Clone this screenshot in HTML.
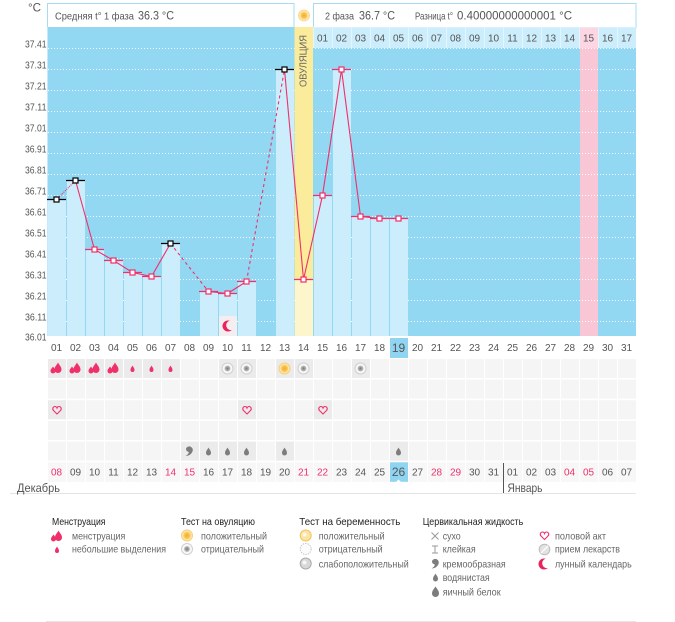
<!DOCTYPE html>
<html><head><meta charset="utf-8"><style>
html,body{margin:0;padding:0;background:#fff}
svg{display:block}
text{font-family:"Liberation Sans","DejaVu Sans",sans-serif}
</style></head><body>
<svg width="675" height="622" viewBox="0 0 675 622" xmlns="http://www.w3.org/2000/svg">
<defs>
<radialGradient id="gT" cx="50%" cy="50%" r="50%"><stop offset="0" stop-color="#777"/><stop offset="1" stop-color="#c8c8c8"/></radialGradient>
<radialGradient id="sT" cx="50%" cy="50%" r="50%"><stop offset="0" stop-color="#f4a92a"/><stop offset="1" stop-color="#fbd16a"/></radialGradient>
</defs>
<rect width="675" height="622" fill="#fff"/>
<!-- degree label -->
<text x="28" y="11.5" font-size="12" fill="#555" textLength="13" lengthAdjust="spacingAndGlyphs">°C</text>
<!-- header boxes -->
<rect x="47.5" y="3.5" width="246.5" height="24" fill="#fff" stroke="#a6dcf2"/>
<rect x="313.5" y="3.5" width="322.5" height="24" fill="#fff" stroke="#a6dcf2"/>
<text x="55" y="19.5" font-size="10.5" fill="#555" textLength="79" lengthAdjust="spacingAndGlyphs">Средняя t° 1 фаза</text>
<text x="138" y="19.5" font-size="12" fill="#555" textLength="36" lengthAdjust="spacingAndGlyphs">36.3 °C</text>
<text x="325" y="19.5" font-size="10.5" fill="#555" textLength="29" lengthAdjust="spacingAndGlyphs">2 фаза</text>
<text x="359" y="19.5" font-size="12" fill="#555" textLength="36" lengthAdjust="spacingAndGlyphs">36.7 °C</text>
<text x="415" y="19.5" font-size="10.5" fill="#555" textLength="38" lengthAdjust="spacingAndGlyphs">Разница t°</text>
<text x="457" y="19.5" font-size="12" fill="#555" textLength="115" lengthAdjust="spacingAndGlyphs">0.40000000000001 °C</text>
<!-- sun in header -->
<circle cx="304" cy="15.5" r="5.5" fill="#fde6a8" stroke="#f8d48a" stroke-width="0.8"/>
<circle cx="304" cy="15.5" r="3.6" fill="url(#sT)"/>

<!-- chart bg -->
<rect x="47" y="27" width="589" height="309" fill="#92d8f3"/>
<line x1="47.5" y1="27" x2="47.5" y2="336" stroke="#c3eafa"/>
<!-- pink column -->
<rect x="580" y="27" width="18" height="309" fill="#f9c6d6"/>
<!-- grid -->
<g stroke="#ffffff" stroke-width="1" stroke-dasharray="1,2" opacity="0.95">
<line x1="48" y1="48.5" x2="636" y2="48.5"/>
<line x1="48" y1="69.5" x2="636" y2="69.5"/>
<line x1="48" y1="90.5" x2="636" y2="90.5"/>
<line x1="48" y1="111.5" x2="636" y2="111.5"/>
<line x1="48" y1="132.5" x2="636" y2="132.5"/>
<line x1="48" y1="153.5" x2="636" y2="153.5"/>
<line x1="48" y1="174.5" x2="636" y2="174.5"/>
<line x1="48" y1="195.5" x2="636" y2="195.5"/>
<line x1="48" y1="216.5" x2="636" y2="216.5"/>
<line x1="48" y1="237.5" x2="636" y2="237.5"/>
<line x1="48" y1="258.5" x2="636" y2="258.5"/>
<line x1="48" y1="279.5" x2="636" y2="279.5"/>
<line x1="48" y1="300.5" x2="636" y2="300.5"/>
<line x1="48" y1="321.5" x2="636" y2="321.5"/>
</g>
<!-- header row 2 -->
<rect x="313" y="27" width="323" height="21" fill="#e4f5fd"/>
<g fill="#ccedfb">
<rect x="314" y="27.5" width="18" height="20.5"/><rect x="333" y="27.5" width="18" height="20.5"/><rect x="352" y="27.5" width="18" height="20.5"/><rect x="371" y="27.5" width="18" height="20.5"/><rect x="390" y="27.5" width="18" height="20.5"/><rect x="409" y="27.5" width="18" height="20.5"/><rect x="428" y="27.5" width="18" height="20.5"/><rect x="447" y="27.5" width="18" height="20.5"/><rect x="466" y="27.5" width="18" height="20.5"/><rect x="485" y="27.5" width="18" height="20.5"/><rect x="504" y="27.5" width="18" height="20.5"/><rect x="523" y="27.5" width="18" height="20.5"/><rect x="542" y="27.5" width="18" height="20.5"/><rect x="561" y="27.5" width="18" height="20.5"/><rect x="580" y="27.5" width="18" height="20.5" fill="#fcd6e2"/><rect x="599" y="27.5" width="18" height="20.5"/><rect x="618" y="27.5" width="18" height="20.5"/>
</g>
<g font-size="10" fill="#555" text-anchor="middle">
<text x="322.5" y="41.5">01</text><text x="341.5" y="41.5">02</text><text x="360.5" y="41.5">03</text><text x="379.5" y="41.5">04</text><text x="398.5" y="41.5">05</text><text x="417.5" y="41.5">06</text><text x="436.5" y="41.5">07</text><text x="455.5" y="41.5">08</text><text x="474.5" y="41.5">09</text><text x="493.5" y="41.5">10</text><text x="512.5" y="41.5">11</text><text x="531.5" y="41.5">12</text><text x="550.5" y="41.5">13</text><text x="569.5" y="41.5">14</text><text x="588.5" y="41.5">15</text><text x="607.5" y="41.5">16</text><text x="626.5" y="41.5">17</text>
</g>
<!-- bars -->
<g fill="#ccedfb">
<rect x="48" y="199.5" width="18" height="136.5"/>
<rect x="67" y="180.5" width="18" height="155.5"/>
<rect x="86" y="249.5" width="18" height="86.5"/>
<rect x="105" y="260.5" width="18" height="75.5"/>
<rect x="124" y="272.5" width="18" height="63.5"/>
<rect x="143" y="276.5" width="18" height="59.5"/>
<rect x="162" y="243.5" width="18" height="92.5"/>
<rect x="200" y="291.5" width="18" height="44.5"/>
<rect x="219" y="293.5" width="18" height="42.5"/>
<rect x="238" y="281.5" width="18" height="54.5"/>
<rect x="276" y="69.5" width="18" height="266.5"/>
<rect x="314" y="195.5" width="18" height="140.5"/>
<rect x="333" y="69.5" width="18" height="266.5"/>
<rect x="352" y="216.5" width="18" height="119.5"/>
<rect x="371" y="218.5" width="18" height="117.5"/>
<rect x="390" y="218.5" width="18" height="117.5"/>
</g>
<!-- ovulation column -->
<rect x="294.5" y="27" width="18.5" height="252.5" fill="#fbec9b"/>
<rect x="294.5" y="279.5" width="18.5" height="56.5" fill="#fdf5cc"/>
<text transform="translate(306.5,61) rotate(-90)" font-size="10.5" fill="#666" text-anchor="middle" textLength="52" lengthAdjust="spacingAndGlyphs">ОВУЛЯЦИЯ</text>
<!-- moon in chart -->
<rect x="219" y="316" width="18" height="20" fill="#f4eef1"/>
<circle cx="228" cy="326" r="5.5" fill="#e8245c"/>
<circle cx="231" cy="325.3" r="4.8" fill="#f4eef1"/>

<!-- marker horizontal lines -->
<g stroke-width="1.2">
<line x1="47" y1="199.5" x2="66" y2="199.5" stroke="#000"/>
<line x1="66" y1="180.5" x2="85" y2="180.5" stroke="#000"/>
<line x1="85" y1="249.5" x2="104" y2="249.5" stroke="#f0306a"/>
<line x1="104" y1="260.5" x2="123" y2="260.5" stroke="#f0306a"/>
<line x1="123" y1="272.5" x2="142" y2="272.5" stroke="#f0306a"/>
<line x1="142" y1="276.5" x2="161" y2="276.5" stroke="#f0306a"/>
<line x1="161" y1="243.5" x2="180" y2="243.5" stroke="#000"/>
<line x1="199" y1="291.5" x2="218" y2="291.5" stroke="#f0306a"/>
<line x1="218" y1="293.5" x2="237" y2="293.5" stroke="#f0306a"/>
<line x1="237" y1="281.5" x2="256" y2="281.5" stroke="#f0306a"/>
<line x1="275" y1="69.5" x2="294" y2="69.5" stroke="#000"/>
<line x1="294" y1="279.5" x2="313" y2="279.5" stroke="#f0306a"/>
<line x1="313" y1="195.5" x2="332" y2="195.5" stroke="#f0306a"/>
<line x1="332" y1="69.5" x2="351" y2="69.5" stroke="#f0306a"/>
<line x1="351" y1="216.5" x2="370" y2="216.5" stroke="#f0306a"/>
<line x1="370" y1="218.5" x2="389" y2="218.5" stroke="#f0306a"/>
<line x1="389" y1="218.5" x2="408" y2="218.5" stroke="#f0306a"/>
</g>
<!-- series lines -->
<g fill="none" stroke="#f0306a" stroke-width="1.1">
<polyline points="75.5,180.5 94.5,249.5 113.5,260.5 132.5,272.5 151.5,276.5 170.5,243.5"/>
<polyline points="208.5,291.5 227.5,293.5 246.5,281.5"/>
<polyline points="284.5,69.5 303.5,279.5 322.5,195.5 341.5,69.5 360.5,216.5 379.5,218.5 398.5,218.5"/>
<line x1="56.5" y1="199.5" x2="75.5" y2="180.5" stroke-dasharray="1,1"/>
<line x1="170.5" y1="243.5" x2="208.5" y2="291.5" stroke-dasharray="3,3"/>
<line x1="246.5" y1="281.5" x2="284.5" y2="69.5" stroke-dasharray="3,3"/>
</g>
<!-- markers -->
<g fill="#fff" stroke-width="1.2">
<rect x="54" y="197" width="5" height="5" stroke="#000"/>
<rect x="73" y="178" width="5" height="5" stroke="#000"/>
<rect x="92" y="247" width="5" height="5" stroke="#f0306a"/>
<rect x="111" y="258" width="5" height="5" stroke="#f0306a"/>
<rect x="130" y="270" width="5" height="5" stroke="#f0306a"/>
<rect x="149" y="274" width="5" height="5" stroke="#f0306a"/>
<rect x="168" y="241" width="5" height="5" stroke="#000"/>
<rect x="206" y="289" width="5" height="5" stroke="#f0306a"/>
<rect x="225" y="291" width="5" height="5" stroke="#f0306a"/>
<rect x="244" y="279" width="5" height="5" stroke="#f0306a"/>
<rect x="282" y="67" width="5" height="5" stroke="#000"/>
<rect x="301" y="277" width="5" height="5" stroke="#f0306a"/>
<rect x="320" y="193" width="5" height="5" stroke="#f0306a"/>
<rect x="339" y="67" width="5" height="5" stroke="#f0306a"/>
<rect x="358" y="214" width="5" height="5" stroke="#f0306a"/>
<rect x="377" y="216" width="5" height="5" stroke="#f0306a"/>
<rect x="396" y="216" width="5" height="5" stroke="#f0306a"/>
</g>

<!-- y axis labels -->
<g font-size="10" fill="#555" text-anchor="end">
<text x="46.5" y="47.5" textLength="21.5" lengthAdjust="spacingAndGlyphs">37.41</text>
<text x="46.5" y="68.5" textLength="21.5" lengthAdjust="spacingAndGlyphs">37.31</text>
<text x="46.5" y="89.5" textLength="21.5" lengthAdjust="spacingAndGlyphs">37.21</text>
<text x="46.5" y="110.5" textLength="21.5" lengthAdjust="spacingAndGlyphs">37.11</text>
<text x="46.5" y="131.5" textLength="21.5" lengthAdjust="spacingAndGlyphs">37.01</text>
<text x="46.5" y="152.5" textLength="21.5" lengthAdjust="spacingAndGlyphs">36.91</text>
<text x="46.5" y="173.5" textLength="21.5" lengthAdjust="spacingAndGlyphs">36.81</text>
<text x="46.5" y="194.5" textLength="21.5" lengthAdjust="spacingAndGlyphs">36.71</text>
<text x="46.5" y="215.5" textLength="21.5" lengthAdjust="spacingAndGlyphs">36.61</text>
<text x="46.5" y="236.5" textLength="21.5" lengthAdjust="spacingAndGlyphs">36.51</text>
<text x="46.5" y="257.5" textLength="21.5" lengthAdjust="spacingAndGlyphs">36.41</text>
<text x="46.5" y="278.5" textLength="21.5" lengthAdjust="spacingAndGlyphs">36.31</text>
<text x="46.5" y="299.5" textLength="21.5" lengthAdjust="spacingAndGlyphs">36.21</text>
<text x="46.5" y="320.5" textLength="21.5" lengthAdjust="spacingAndGlyphs">36.11</text>
<text x="46.5" y="340.5" textLength="21.5" lengthAdjust="spacingAndGlyphs">36.01</text>
</g>

<!-- cycle day row -->
<rect x="390" y="338" width="18" height="20" fill="#8fd4f1"/>
<g font-size="10" fill="#555" text-anchor="middle">
<text x="56.5" y="351">01</text><text x="75.5" y="351">02</text><text x="94.5" y="351">03</text><text x="113.5" y="351">04</text><text x="132.5" y="351">05</text><text x="151.5" y="351">06</text><text x="170.5" y="351">07</text><text x="189.5" y="351">08</text><text x="208.5" y="351">09</text><text x="227.5" y="351">10</text><text x="246.5" y="351">11</text><text x="265.5" y="351">12</text><text x="284.5" y="351">13</text><text x="303.5" y="351">14</text><text x="322.5" y="351">15</text><text x="341.5" y="351">16</text><text x="360.5" y="351">17</text><text x="379.5" y="351">18</text><text x="398.5" y="352" font-size="12">19</text><text x="417.5" y="351">20</text><text x="436.5" y="351">21</text><text x="455.5" y="351">22</text><text x="474.5" y="351">23</text><text x="493.5" y="351">24</text><text x="512.5" y="351">25</text><text x="531.5" y="351">26</text><text x="550.5" y="351">27</text><text x="569.5" y="351">28</text><text x="588.5" y="351">29</text><text x="607.5" y="351">30</text><text x="626.5" y="351">31</text>
</g>

<!-- icon rows background -->
<g fill="#f5f5f5">
<rect x="48" y="359" width="588" height="19"/>
<rect x="48" y="379.6" width="588" height="19"/>
<rect x="48" y="400.3" width="588" height="19"/>
<rect x="48" y="421" width="588" height="19"/>
<rect x="48" y="441.6" width="588" height="19"/>
<rect x="48" y="462.3" width="588" height="19.5" fill="#f7f7f7"/>
</g>
<!-- vertical white separators between cells -->
<g stroke="#fff" stroke-width="1">
<line x1="66.5" y1="359" x2="66.5" y2="482"/><line x1="85.5" y1="359" x2="85.5" y2="482"/><line x1="104.5" y1="359" x2="104.5" y2="482"/><line x1="123.5" y1="359" x2="123.5" y2="482"/><line x1="142.5" y1="359" x2="142.5" y2="482"/><line x1="161.5" y1="359" x2="161.5" y2="482"/><line x1="180.5" y1="359" x2="180.5" y2="482"/><line x1="199.5" y1="359" x2="199.5" y2="482"/><line x1="218.5" y1="359" x2="218.5" y2="482"/><line x1="237.5" y1="359" x2="237.5" y2="482"/><line x1="256.5" y1="359" x2="256.5" y2="482"/><line x1="275.5" y1="359" x2="275.5" y2="482"/><line x1="294.5" y1="359" x2="294.5" y2="482"/><line x1="313.5" y1="359" x2="313.5" y2="482"/><line x1="332.5" y1="359" x2="332.5" y2="482"/><line x1="351.5" y1="359" x2="351.5" y2="482"/><line x1="370.5" y1="359" x2="370.5" y2="482"/><line x1="389.5" y1="359" x2="389.5" y2="482"/><line x1="408.5" y1="359" x2="408.5" y2="482"/><line x1="427.5" y1="359" x2="427.5" y2="482"/><line x1="446.5" y1="359" x2="446.5" y2="482"/><line x1="465.5" y1="359" x2="465.5" y2="482"/><line x1="484.5" y1="359" x2="484.5" y2="482"/><line x1="503.5" y1="359" x2="503.5" y2="482"/><line x1="522.5" y1="359" x2="522.5" y2="482"/><line x1="541.5" y1="359" x2="541.5" y2="482"/><line x1="560.5" y1="359" x2="560.5" y2="482"/><line x1="579.5" y1="359" x2="579.5" y2="482"/><line x1="598.5" y1="359" x2="598.5" y2="482"/><line x1="617.5" y1="359" x2="617.5" y2="482"/>
</g>
<!-- icon cells darker -->
<g fill="#ebebeb">
<rect x="48" y="359" width="18" height="19"/><rect x="67" y="359" width="18" height="19"/><rect x="86" y="359" width="18" height="19"/><rect x="105" y="359" width="18" height="19"/><rect x="124" y="359" width="18" height="19"/><rect x="143" y="359" width="18" height="19"/><rect x="162" y="359" width="18" height="19"/>
<rect x="219" y="359" width="18" height="19"/><rect x="238" y="359" width="18" height="19"/><rect x="276" y="359" width="18" height="19"/><rect x="295" y="359" width="18" height="19"/><rect x="352" y="359" width="18" height="19"/>
<rect x="48" y="400.3" width="18" height="19"/><rect x="238" y="400.3" width="18" height="19"/><rect x="314" y="400.3" width="18" height="19"/>
<rect x="181" y="441.6" width="18" height="19"/><rect x="200" y="441.6" width="18" height="19"/><rect x="219" y="441.6" width="18" height="19"/><rect x="238" y="441.6" width="18" height="19"/><rect x="276" y="441.6" width="18" height="19"/><rect x="390" y="441.6" width="18" height="19"/>
</g>
<!-- menstruation icons -->
<g fill="#f0306a">
<g transform="translate(56.5,368.5)"><path d="M1.5,-6 C2.6,-3.5 5,-2 5,1 A3.5,3.5 0 0 1 -2,1 C-2,-2 0.4,-3.5 1.5,-6Z"/><path d="M-3.5,-2 C-2.8,-0.5 -1,0.5 -1,2.5 A2.5,2.5 0 0 1 -6,2.5 C-6,0.5 -4.2,-0.5 -3.5,-2Z"/></g>
<g transform="translate(75.5,368.5)"><path d="M1.5,-6 C2.6,-3.5 5,-2 5,1 A3.5,3.5 0 0 1 -2,1 C-2,-2 0.4,-3.5 1.5,-6Z"/><path d="M-3.5,-2 C-2.8,-0.5 -1,0.5 -1,2.5 A2.5,2.5 0 0 1 -6,2.5 C-6,0.5 -4.2,-0.5 -3.5,-2Z"/></g>
<g transform="translate(94.5,368.5)"><path d="M1.5,-6 C2.6,-3.5 5,-2 5,1 A3.5,3.5 0 0 1 -2,1 C-2,-2 0.4,-3.5 1.5,-6Z"/><path d="M-3.5,-2 C-2.8,-0.5 -1,0.5 -1,2.5 A2.5,2.5 0 0 1 -6,2.5 C-6,0.5 -4.2,-0.5 -3.5,-2Z"/></g>
<g transform="translate(113.5,368.5)"><path d="M1.5,-6 C2.6,-3.5 5,-2 5,1 A3.5,3.5 0 0 1 -2,1 C-2,-2 0.4,-3.5 1.5,-6Z"/><path d="M-3.5,-2 C-2.8,-0.5 -1,0.5 -1,2.5 A2.5,2.5 0 0 1 -6,2.5 C-6,0.5 -4.2,-0.5 -3.5,-2Z"/></g>
<path transform="translate(132.5,369)" d="M0,-3.5 C0.8,-1.8 2,-1 2,1 A2,2 0 0 1 -2,1 C-2,-1 -0.8,-1.8 0,-3.5Z"/>
<path transform="translate(151.5,369)" d="M0,-3.5 C0.8,-1.8 2,-1 2,1 A2,2 0 0 1 -2,1 C-2,-1 -0.8,-1.8 0,-3.5Z"/>
<path transform="translate(170.5,369)" d="M0,-3.5 C0.8,-1.8 2,-1 2,1 A2,2 0 0 1 -2,1 C-2,-1 -0.8,-1.8 0,-3.5Z"/>
</g>
<!-- tests -->
<g>
<circle cx="227.5" cy="368.5" r="5.5" fill="#f8f8f8" stroke="#cfcfcf"/><circle cx="227.5" cy="368.5" r="3" fill="url(#gT)"/>
<circle cx="246.5" cy="368.5" r="5.5" fill="#f8f8f8" stroke="#cfcfcf"/><circle cx="246.5" cy="368.5" r="3" fill="url(#gT)"/>
<circle cx="284.5" cy="368.5" r="5.5" fill="#fde6a8" stroke="#f5cf7c"/><circle cx="284.5" cy="368.5" r="3.7" fill="url(#sT)"/>
<circle cx="303.5" cy="368.5" r="5.5" fill="#f8f8f8" stroke="#cfcfcf"/><circle cx="303.5" cy="368.5" r="3" fill="url(#gT)"/>
<circle cx="360.5" cy="368.5" r="5.5" fill="#f8f8f8" stroke="#cfcfcf"/><circle cx="360.5" cy="368.5" r="3" fill="url(#gT)"/>
</g>
<!-- hearts -->
<g fill="none" stroke="#f0306a" stroke-width="1.1">
<path transform="translate(57,410.5)" d="M0,3.5 L-3.5,0 C-5,-1.5 -4,-4 -2,-4 C-1,-4 -0.3,-3.3 0,-2.5 C0.3,-3.3 1,-4 2,-4 C4,-4 5,-1.5 3.5,0 Z"/>
<path transform="translate(247,410.5)" d="M0,3.5 L-3.5,0 C-5,-1.5 -4,-4 -2,-4 C-1,-4 -0.3,-3.3 0,-2.5 C0.3,-3.3 1,-4 2,-4 C4,-4 5,-1.5 3.5,0 Z"/>
<path transform="translate(323,410.5)" d="M0,3.5 L-3.5,0 C-5,-1.5 -4,-4 -2,-4 C-1,-4 -0.3,-3.3 0,-2.5 C0.3,-3.3 1,-4 2,-4 C4,-4 5,-1.5 3.5,0 Z"/>
</g>
<!-- cervical -->
<g fill="#7d7d7d">
<path transform="translate(189.5,451)" d="M-3.5,-2.5 A3.5,3.5 0 1 1 3,0.5 C2,3 -0.5,5 -4,5 C-1.5,3.5 -0.5,2 -0.8,1 A3.5,3.5 0 0 1 -3.5,-2.5Z"/>
<path transform="translate(208.5,452)" d="M0,-4.5 C1,-2.5 2.5,-1.3 2.5,1 A2.5,2.5 0 0 1 -2.5,1 C-2.5,-1.3 -1,-2.5 0,-4.5Z"/>
<path transform="translate(227.5,452)" d="M0,-4.5 C1,-2.5 2.5,-1.3 2.5,1 A2.5,2.5 0 0 1 -2.5,1 C-2.5,-1.3 -1,-2.5 0,-4.5Z"/>
<path transform="translate(246.5,452)" d="M0,-4.5 C1,-2.5 2.5,-1.3 2.5,1 A2.5,2.5 0 0 1 -2.5,1 C-2.5,-1.3 -1,-2.5 0,-4.5Z"/>
<path transform="translate(284.5,452)" d="M0,-4.5 C1,-2.5 2.5,-1.3 2.5,1 A2.5,2.5 0 0 1 -2.5,1 C-2.5,-1.3 -1,-2.5 0,-4.5Z"/>
<path transform="translate(398.5,452)" d="M0,-4.5 C1,-2.5 2.5,-1.3 2.5,1 A2.5,2.5 0 0 1 -2.5,1 C-2.5,-1.3 -1,-2.5 0,-4.5Z"/>
</g>
<!-- date row -->
<rect x="390" y="462.3" width="18" height="19.5" fill="#8fd4f1"/>
<path d="M396,482 L398.5,479.5 L401,482Z" fill="#fff"/>
<g font-size="10" fill="#555" text-anchor="middle">
<text x="56.5" y="475.5" fill="#f0306a">08</text><text x="75.5" y="475.5">09</text><text x="94.5" y="475.5">10</text><text x="113.5" y="475.5">11</text><text x="132.5" y="475.5">12</text><text x="151.5" y="475.5">13</text><text x="170.5" y="475.5" fill="#f0306a">14</text><text x="189.5" y="475.5" fill="#f0306a">15</text><text x="208.5" y="475.5">16</text><text x="227.5" y="475.5">17</text><text x="246.5" y="475.5">18</text><text x="265.5" y="475.5">19</text><text x="284.5" y="475.5">20</text><text x="303.5" y="475.5" fill="#f0306a">21</text><text x="322.5" y="475.5" fill="#f0306a">22</text><text x="341.5" y="475.5">23</text><text x="360.5" y="475.5">24</text><text x="379.5" y="475.5">25</text><text x="398.5" y="476" font-size="12">26</text><text x="417.5" y="475.5">27</text><text x="436.5" y="475.5" fill="#f0306a">28</text><text x="455.5" y="475.5" fill="#f0306a">29</text><text x="474.5" y="475.5">30</text><text x="493.5" y="475.5">31</text><text x="512.5" y="475.5">01</text><text x="531.5" y="475.5">02</text><text x="550.5" y="475.5">03</text><text x="569.5" y="475.5" fill="#f0306a">04</text><text x="588.5" y="475.5" fill="#f0306a">05</text><text x="607.5" y="475.5">06</text><text x="626.5" y="475.5">07</text>
</g>
<line x1="503.5" y1="463" x2="503.5" y2="493" stroke="#555"/>
<line x1="10" y1="493.5" x2="636" y2="493.5" stroke="#e4e4e4"/>
<text x="17" y="492" font-size="12" fill="#555" textLength="43" lengthAdjust="spacingAndGlyphs">Декабрь</text>
<text x="507.5" y="492" font-size="12" fill="#555" textLength="35" lengthAdjust="spacingAndGlyphs">Январь</text>

<!-- legend -->
<g font-size="10.5" fill="#222">
<text x="52" y="525" textLength="53.5" lengthAdjust="spacingAndGlyphs">Менструация</text>
<text x="181" y="525" textLength="74" lengthAdjust="spacingAndGlyphs">Тест на овуляцию</text>
<text x="299.3" y="525" textLength="101" lengthAdjust="spacingAndGlyphs">Тест на беременность</text>
<text x="422.7" y="525" textLength="100.6" lengthAdjust="spacingAndGlyphs">Цервикальная жидкость</text>
</g>
<g font-size="10.5" fill="#666">
<text x="72" y="539.3" textLength="53.3" lengthAdjust="spacingAndGlyphs">менструация</text>
<text x="72" y="552.6" textLength="94" lengthAdjust="spacingAndGlyphs">небольшие выделения</text>
<text x="201" y="539.3" textLength="66" lengthAdjust="spacingAndGlyphs">положительный</text>
<text x="201" y="552.6" textLength="63" lengthAdjust="spacingAndGlyphs">отрицательный</text>
<text x="318.7" y="539.3" textLength="66" lengthAdjust="spacingAndGlyphs">положительный</text>
<text x="318.7" y="552.6" textLength="64" lengthAdjust="spacingAndGlyphs">отрицательный</text>
<text x="318.7" y="567.3" textLength="90" lengthAdjust="spacingAndGlyphs">слабоположительный</text>
<text x="442.7" y="539.3" textLength="18" lengthAdjust="spacingAndGlyphs">сухо</text>
<text x="442.7" y="552.6" textLength="33" lengthAdjust="spacingAndGlyphs">клейкая</text>
<text x="442.7" y="567.3" textLength="63" lengthAdjust="spacingAndGlyphs">кремообразная</text>
<text x="442.7" y="581" textLength="47" lengthAdjust="spacingAndGlyphs">водянистая</text>
<text x="442.7" y="595.3" textLength="58" lengthAdjust="spacingAndGlyphs">яичный белок</text>
<text x="555" y="539.3" textLength="51" lengthAdjust="spacingAndGlyphs">половой акт</text>
<text x="555" y="552.6" textLength="65" lengthAdjust="spacingAndGlyphs">прием лекарств</text>
<text x="555" y="567.3" textLength="76.7" lengthAdjust="spacingAndGlyphs">лунный календарь</text>
</g>
<!-- legend icons -->
<g fill="#f0306a">
<g transform="translate(57,536.5)"><path d="M1.5,-6 C2.6,-3.5 5,-2 5,1 A3.5,3.5 0 0 1 -2,1 C-2,-2 0.4,-3.5 1.5,-6Z"/><path d="M-3.5,-2 C-2.8,-0.5 -1,0.5 -1,2.5 A2.5,2.5 0 0 1 -6,2.5 C-6,0.5 -4.2,-0.5 -3.5,-2Z"/></g>
<path transform="translate(57,550)" d="M0,-3.5 C0.8,-1.8 2,-1 2,1 A2,2 0 0 1 -2,1 C-2,-1 -0.8,-1.8 0,-3.5Z"/>
</g>
<circle cx="187" cy="535.5" r="5.5" fill="#fde6a8" stroke="#f5cf7c"/><circle cx="187" cy="535.5" r="3.7" fill="url(#sT)"/>
<circle cx="187" cy="549" r="5.5" fill="#f8f8f8" stroke="#cfcfcf"/><circle cx="187" cy="549" r="3" fill="url(#gT)"/>
<circle cx="305.7" cy="535.5" r="5.5" fill="#fde4a2" stroke="#f2c35c"/><circle cx="304.5" cy="534.5" r="2" fill="#fff" opacity="0.8"/>
<circle cx="305.7" cy="549" r="5.5" fill="#fbfbfb" stroke="#c8c8c8" stroke-dasharray="1.5,1"/>
<circle cx="305.7" cy="563.5" r="5.5" fill="#d8d8d8" stroke="#aaa"/><circle cx="304.5" cy="562.5" r="2" fill="#fff" opacity="0.8"/>
<g stroke="#999" stroke-width="1" fill="none">
<line x1="431.5" y1="532.5" x2="438.5" y2="539.5"/><line x1="438.5" y1="532.5" x2="431.5" y2="539.5"/>
<line x1="435" y1="546" x2="435" y2="553"/><line x1="432" y1="546" x2="438" y2="546"/><line x1="432" y1="553" x2="438" y2="553"/>
</g>
<g fill="#7d7d7d">
<path transform="translate(435.5,563.5)" d="M-3.5,-2.5 A3.5,3.5 0 1 1 3,0.5 C2,3 -0.5,5 -4,5 C-1.5,3.5 -0.5,2 -0.8,1 A3.5,3.5 0 0 1 -3.5,-2.5Z"/>
<path transform="translate(435.5,578)" d="M0,-4.5 C1,-2.5 2.5,-1.3 2.5,1 A2.5,2.5 0 0 1 -2.5,1 C-2.5,-1.3 -1,-2.5 0,-4.5Z"/>
<path transform="translate(435.5,592)" d="M0,-5.5 C1.5,-3 3.5,-1.5 3.5,1.5 A3.5,3.5 0 0 1 -3.5,1.5 C-3.5,-1.5 -1.5,-3 0,-5.5Z"/>
</g>
<path transform="translate(544.5,536)" d="M0,3.5 L-3.5,0 C-5,-1.5 -4,-4 -2,-4 C-1,-4 -0.3,-3.3 0,-2.5 C0.3,-3.3 1,-4 2,-4 C4,-4 5,-1.5 3.5,0 Z" fill="none" stroke="#f0306a" stroke-width="1.1"/>
<circle cx="544.5" cy="549.5" r="5.3" fill="#e2e2e2" stroke="#bbb"/>
<line x1="540.8" y1="553.2" x2="548.2" y2="545.8" stroke="#fff" stroke-width="1.3"/>
<circle cx="544" cy="564" r="5.5" fill="#e8245c"/>
<circle cx="547" cy="563.3" r="4.8" fill="#fff"/>
<line x1="46" y1="621.5" x2="636" y2="621.5" stroke="#e6e6e6"/>
</svg>
</body></html>
